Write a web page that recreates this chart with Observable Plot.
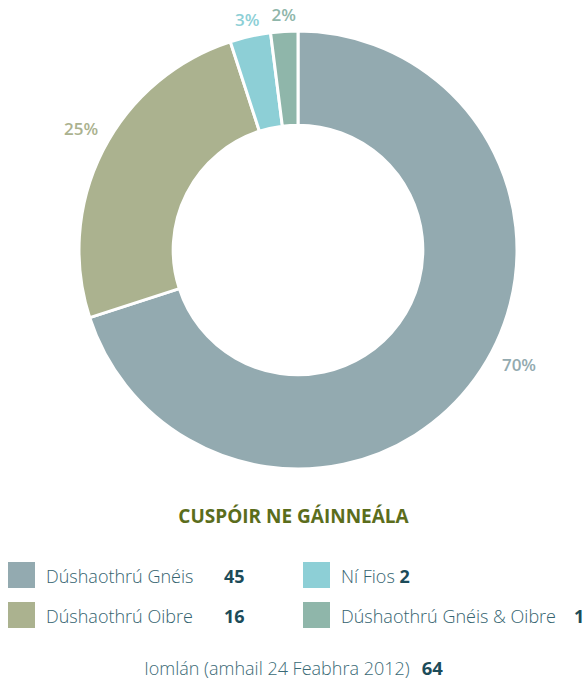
<!DOCTYPE html>
<html>
<head>
<meta charset="utf-8">
<script src="https://cdn.jsdelivr.net/npm/d3@7"></script>
<script src="https://cdn.jsdelivr.net/npm/@observablehq/plot@0.6"></script>
<style>
  body { margin: 0; background: #fff; font-family: "Open Sans", sans-serif; }
  #wrap { position: relative; width: 587px; }
  #below { position: relative; width: 587px; height: 190px; }
  .title { position: absolute; left: 0; width: 587px; top: 17px; text-align: center;
           font-size: 19px; line-height: 19px; font-weight: 700; color: #5b6d1c; }
  .sw { position: absolute; width: 27px; height: 26px; }
  .lt { position: absolute; font-size: 18px; line-height: 18px; font-weight: 300; color: #34636f; white-space: nowrap; }
  .num { position: absolute; font-size: 18px; line-height: 18px; font-weight: 700; color: #1c4b59; white-space: nowrap; }
  .total { position: absolute; left: 0; width: 587px; top: 169px; display: flex; justify-content: center;
           align-items: baseline; gap: 12px; font-size: 18px; line-height: 18px; color: #3a6a76; }
  .total .t { font-weight: 300; }
  .total b { font-weight: 700; color: #1c4b59; font-size: 18.5px; }
</style>
</head>
<body>
<div id="wrap"></div>
<script>
// ---- data ----
const categories = ["Dúshaothrú Gnéis", "Dúshaothrú Oibre", "Ní Fios", "Dúshaothrú Gnéis & Oibre"];
const counts = [45, 16, 2, 1];
const percents = [70, 25, 3, 2];
const percentLabels = ["70%", "25%", "3%", "2%"];
const colors = ["#93aab0", "#abb28f", "#8dcfd6", "#8fb6aa"];
const titleText = "CUSPÓIR NE GÁINNEÁLA";
const totalText = "Iomlán (amhail 24 Feabhra 2012)";
const totalValue = 64;

// ---- layout ----
const W = 587, H = 490;
const cx = 298, cy = 250, R = 219;
const innerFrac = 0.57;
const labelNudgeDeg = [-8.5, 2, 0, 0];   // label placement tweak (layout only)

const rows = categories.map((c, i) => ({category: c, count: counts[i], pct: percents[i], label: percentLabels[i], color: colors[i]}));
const arcs = d3.pie().sort(null).value(d => d.pct)(rows);
const labelRows = arcs.map((a, i) => {
  const mid = (a.startAngle + a.endAngle) / 2 + labelNudgeDeg[i] * Math.PI / 180;
  const r = a.data.pct < 5 ? 1.075 : 1.135;
  return {x: r * Math.sin(mid), y: r * Math.cos(mid), label: a.data.label, color: a.data.color};
});

function donut(index, scales) {
  const x0 = scales.x(0), y0 = scales.y(0);
  const rad = scales.x(1) - scales.x(0);
  const arc = d3.arc().outerRadius(rad).innerRadius(rad * innerFrac);
  const g = d3.create("svg:g").attr("transform", `translate(${x0},${y0})`);
  g.selectAll("path").data(arcs).join("path")
    .attr("d", arc)
    .attr("fill", d => d.data.color)
    .attr("stroke", "#fff")
    .attr("stroke-width", 3)
    .attr("stroke-linejoin", "round");
  return g.node();
}

const chart = Plot.plot({
  width: W, height: H,
  margin: 0,
  style: {fontFamily: "Open Sans", background: "#fff"},
  x: {type: "linear", domain: [-1, 1], range: [cx - R, cx + R], axis: null},
  y: {type: "linear", domain: [-1, 1], range: [cy + R, cy - R], axis: null},
  marks: [
    donut,
    Plot.text(labelRows, {x: "x", y: "y", text: "label", fill: "color",
      fontSize: 17, fontWeight: 600, textAnchor: "middle", lineAnchor: "middle"})
  ]
});
document.getElementById("wrap").appendChild(chart);

// ---- text below ----
const below = document.createElement("div");
below.id = "below";
let html = `<div class="title">${titleText}</div>`;
const cols = [{sw: 8, tx: 46}, {sw: 303, tx: 341}];
const swTop = [72, 112], txTop = [77, 117];
rows.forEach((d, i) => {
  const col = i < 2 ? 0 : 1, row = i % 2;
  html += `<div class="sw" style="left:${cols[col].sw}px;top:${swTop[row]}px;background:${d.color}"></div>`;
  if (col === 0) {
    html += `<div class="lt" style="left:${cols[col].tx}px;top:${txTop[row]}px">${d.category}</div>`;
    html += `<div class="num" style="left:224px;top:${txTop[row]}px">${d.count}</div>`;
  } else if (row === 0) {
    html += `<div class="lt" style="left:${cols[col].tx}px;top:${txTop[row]}px">${d.category} <b style="font-weight:700;color:#1c4b59">${d.count}</b></div>`;
  } else {
    html += `<div class="lt" style="left:${cols[col].tx}px;top:${txTop[row]}px">${d.category.replace("&", "&amp;")}</div>`;
    html += `<div class="num" style="left:574px;top:${txTop[row]}px">${d.count}</div>`;
  }
});
html += `<div class="total"><span class="t">${totalText}</span><b>${totalValue}</b></div>`;
below.innerHTML = html;
document.getElementById("wrap").appendChild(below);
</script>
</body>
</html>
